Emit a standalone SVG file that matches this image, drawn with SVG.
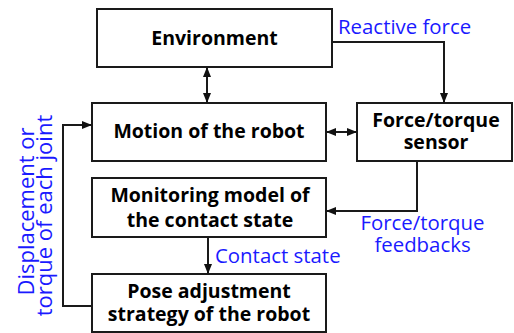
<svg xmlns="http://www.w3.org/2000/svg" width="514" height="333" viewBox="0 0 514 333">
<style>
.box{fill:#fff;stroke:#1a1a1a;stroke-width:2}
.t{font-family:"Open Sans",sans-serif;font-weight:bold;font-size:19.5px;fill:#000;text-anchor:middle}
.b{font-family:"Open Sans",sans-serif;font-size:20.4px;fill:#1a1aff}
.v{font-family:"Open Sans",sans-serif;font-size:22px;fill:#1a1aff;text-anchor:middle}
.c{fill:none;stroke:#1a1a1a;stroke-width:2}
</style>
<defs>
<marker id="a" markerWidth="10" markerHeight="8" refX="10" refY="4" orient="auto-start-reverse" markerUnits="userSpaceOnUse"><path d="M0,0 L10,4 L0,8 z" fill="#111"/></marker>
</defs>
<g id="environment"><rect class="box" x="97" y="9" width="235" height="58"/><text class="t" x="214.5" y="45">Environment</text></g>
<g id="motion"><rect class="box" x="92" y="103" width="234" height="58"/><text class="t" x="209" y="138">Motion of the robot</text></g>
<g id="sensor"><rect class="box" x="357" y="103" width="155" height="58"/><text class="t" x="436" y="127">Force/torque</text><text class="t" x="436" y="149">sensor</text></g>
<g id="monitoring"><rect class="box" x="92" y="178" width="234" height="59"/><text class="t" x="210" y="202">Monitoring model of</text><text class="t" x="210" y="227">the contact state</text></g>
<g id="pose"><rect class="box" x="92" y="274" width="234" height="58"/><text class="t" x="209" y="298">Pose adjustment</text><text class="t" x="209" y="321">strategy of the robot</text></g>
<g id="connectors">
<path class="c" d="M207,67 V103" marker-start="url(#a)" marker-end="url(#a)"/>
<path class="c" d="M326,132 H357" marker-start="url(#a)" marker-end="url(#a)"/>
<path class="c" d="M332,42 H444 V103" marker-end="url(#a)"/>
<path class="c" d="M417,161 V211 H326" marker-end="url(#a)"/>
<path class="c" d="M208,237 V274" marker-end="url(#a)"/>
<path class="c" d="M92,306 H63 V125 H92" marker-end="url(#a)"/>
</g>
<g id="labels">
<text class="b" x="338" y="34">Reactive force</text>
<text class="b" x="422.5" y="230" text-anchor="middle">Force/torque</text>
<text class="b" x="422.5" y="252" text-anchor="middle">feedbacks</text>
<text class="b" x="215" y="263">Contact state</text>
<text class="v" transform="translate(34,211.5) rotate(-90)">Displacement or</text>
<text class="v" transform="translate(52,215.5) rotate(-90)">torque of each joint</text>
</g>
</svg>
